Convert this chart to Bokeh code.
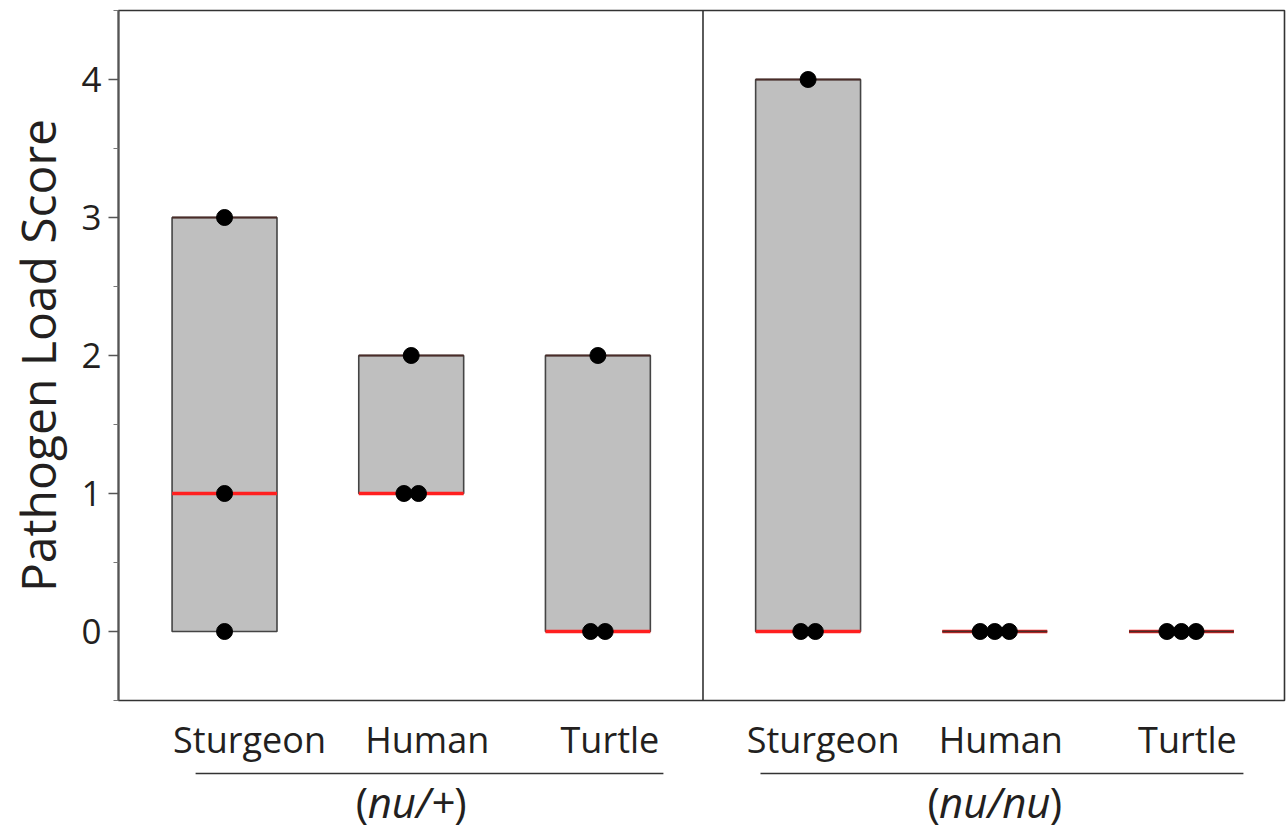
import numpy as np
from bokeh.plotting import figure
from bokeh.layouts import column
from bokeh.models import Range1d, FixedTicker, Span, ColumnDataSource
from bokeh.core.properties import value
from bokeh.embed import file_html
from bokeh.resources import INLINE

# ---- data ----
GENOTYPES = ["nu/+", "nu/nu"]
SPECIES = ["Sturgeon", "Human", "Turtle"]
SCORES_NU_HET = [[0, 1, 3], [1, 1, 2], [0, 0, 2]]   # (nu/+)
SCORES_NU_NU = [[0, 0, 4], [0, 0, 0], [0, 0, 0]]    # (nu/nu)
Y_TICKS = [0, 1, 2, 3, 4]
Y_LABEL = "Pathogen Load Score"

# ---- layout / style ----
GROUP_STEP = 3 + 0.126     # distance between group starts (x units)
BOX_HALF = 0.281
DOT_STEP = 0.078
FONT = "Open Sans"
TXT = "#231f20"
ITALIC_HALF_PX = [43, 55]           # half width of italic part of group labels
LABEL_SHIFT_PX = [25, 16, 12, 15, 6, 6]  # hand placement of category labels
LINE_PAD_START = [0.155, 0.255]     # group underline extents (x units)
LINE_PAD_END = [0.351, 0.332]
W = 1286
LEFT, RIGHT = 118, 2

groups = [SCORES_NU_HET, SCORES_NU_NU]

centers, lo, hi, med, names = [], [], [], [], []
dx, dy = [], []
for g, grp in enumerate(groups):
    for s, vals in enumerate(grp):
        c = g * GROUP_STEP + s
        centers.append(c)
        names.append(SPECIES[s])
        arr = np.array(vals, dtype=float)
        lo.append(arr.min()); hi.append(arr.max()); med.append(float(np.median(arr)))
        # spread tied values side by side
        for v in sorted(set(vals)):
            n = vals.count(v)
            for k in range(n):
                dx.append(c + (k - (n - 1) / 2) * DOT_STEP)
                dy.append(v)

box_src = ColumnDataSource(dict(
    left=[c - BOX_HALF for c in centers], right=[c + BOX_HALF for c in centers],
    bottom=lo, top=hi, med=med))

xr = Range1d(-0.568, 2 + GROUP_STEP + 0.552)

p = figure(width=W, height=702, output_backend="svg", toolbar_location=None,
           x_range=xr, y_range=Range1d(-0.5, 4.5), x_axis_location=None,
           min_border_left=LEFT, min_border_right=RIGHT, min_border_top=10, min_border_bottom=2)
p.xgrid.visible = False
p.ygrid.visible = False
p.outline_line_color = "#333333"
p.outline_line_width = 1.6
p.background_fill_color = "white"
p.border_fill_color = "white"

ax = p.yaxis[0]
ax.ticker = FixedTicker(ticks=Y_TICKS, minor_ticks=[t + 0.5 for t in [-1] + Y_TICKS])
ax.axis_label = Y_LABEL
ax.axis_label_text_font = FONT
ax.axis_label_text_font_size = "48px"
ax.axis_label_text_font_style = "normal"
ax.axis_label_text_color = TXT
ax.axis_label_standoff = 8
ax.major_label_text_font = FONT
ax.major_label_text_font_size = "35px"
ax.major_label_text_color = TXT
ax.major_label_standoff = 7
ax.axis_line_color = "#555555"
ax.axis_line_width = 2
ax.major_tick_line_color = "#555555"
ax.major_tick_line_width = 1.5
ax.major_tick_out = 10
ax.major_tick_in = 0
ax.minor_tick_line_color = "#777777"
ax.minor_tick_line_width = 1.2
ax.minor_tick_out = 5
ax.minor_tick_in = 0

# divider between the genotype panels
p.add_layout(Span(location=(2 + GROUP_STEP) / 2, dimension="height",
                  line_color="#333333", line_width=1.6))

# boxes (range), medians, top edges
p.quad(left="left", right="right", bottom="bottom", top="top", source=box_src,
       fill_color="#bfbfbf", line_color="#444444", line_width=1.6)
p.segment(x0="left", x1="right", y0="med", y1="med", source=box_src,
          line_color="#ff1f1f", line_width=3.5)
p.segment(x0="left", x1="right", y0="top", y1="top", source=box_src,
          line_color="#4a2c28", line_width=1.8)

# points
p.scatter(dx, dy, size=16, color="black")

# ---- category / genotype labels strip (y in px from its top) ----
QH = 128
q = figure(width=W, height=QH, output_backend="svg", toolbar_location=None,
           x_range=xr, y_range=Range1d(QH, 0), x_axis_location=None, y_axis_location=None,
           min_border_left=LEFT, min_border_right=RIGHT, min_border_top=0, min_border_bottom=0)
q.xgrid.visible = False
q.ygrid.visible = False
q.outline_line_color = None
q.background_fill_color = "white"
q.border_fill_color = "white"

q.text(x=centers, y=[37] * len(centers), text=names, x_offset=LABEL_SHIFT_PX,
       text_align="center", text_baseline="middle",
       text_font=value(FONT), text_font_size="36px", text_color=TXT)

firsts = [g * GROUP_STEP for g in range(len(GENOTYPES))]
q.segment(x0=[f - a for f, a in zip(firsts, LINE_PAD_START)],
          x1=[f + 2 + b for f, b in zip(firsts, LINE_PAD_END)],
          y0=[71] * len(firsts), y1=[71] * len(firsts), line_color="#333333", line_width=1.6)

gcs = [f + 1 for f in firsts]
common = dict(text_baseline="middle", text_font=value(FONT),
              text_font_size="42px", text_color=TXT)
GY = 99
q.text(x=gcs, y=[GY] * 2, text=GENOTYPES, text_align="center",
       text_font_style="italic", **common)
q.text(x=gcs, y=[GY] * 2, text=["("] * 2, x_offset=[-h for h in ITALIC_HALF_PX],
       text_align="right", **common)
q.text(x=gcs, y=[GY] * 2, text=[")"] * 2, x_offset=ITALIC_HALF_PX,
       text_align="left", **common)

open("out.html", "w").write(file_html(column(p, q, spacing=0), INLINE))
